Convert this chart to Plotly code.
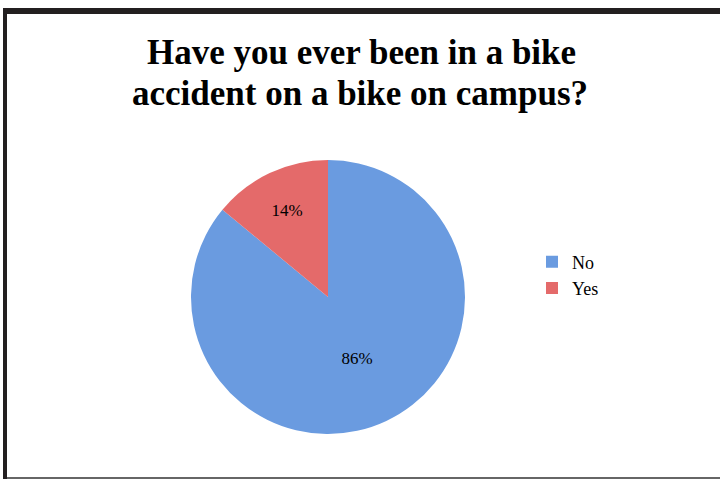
import plotly.graph_objects as go

labels = ["No", "Yes"]
values = [86, 14]
colors = ["#6A9BE0", "#E46A6A"]
title_lines = ["Have you ever been in a bike", "accident on a bike on campus?"]

W, H = 720, 479

def px(x):
    return x / W

def py(y):
    return 1 - y / H

fig = go.Figure(
    go.Pie(
        labels=labels,
        values=values,
        marker=dict(colors=colors, line=dict(width=0)),
        sort=False,
        direction="clockwise",
        rotation=0,
        texttemplate="%{percent:.0%}",
        textposition="inside",
        insidetextfont=dict(family="Liberation Serif", size=17, color="black"),
        domain=dict(x=[px(191), px(465)], y=[py(434), py(160)]),
        hoverinfo="label+percent",
    )
)

shapes = [
    dict(type="rect", xref="paper", yref="paper", x0=px(3), x1=1.01, y0=py(14), y1=py(8),
         fillcolor="#231f20", line=dict(width=0), layer="above"),
    dict(type="rect", xref="paper", yref="paper", x0=px(3), x1=px(7), y0=-0.01, y1=py(8),
         fillcolor="#231f20", line=dict(width=0), layer="above"),
    dict(type="rect", xref="paper", yref="paper", x0=px(7), x1=1.01, y0=-0.01, y1=py(477),
         fillcolor="#666666", line=dict(width=0), layer="above"),
]

annotations = [
    dict(text="<b>" + title_lines[0] + "</b>", x=px(361), y=py(52), xref="paper", yref="paper",
         showarrow=False, xanchor="center", yanchor="middle",
         font=dict(family="Liberation Serif", size=35, color="black")),
    dict(text="<b>" + title_lines[1] + "</b>", x=px(360), y=py(93), xref="paper", yref="paper",
         showarrow=False, xanchor="center", yanchor="middle",
         font=dict(family="Liberation Serif", size=35, color="black")),
]

fig.update_layout(
    width=W, height=H,
    margin=dict(l=0, r=0, t=0, b=0),
    paper_bgcolor="white",
    plot_bgcolor="white",
    shapes=shapes,
    annotations=annotations,
    showlegend=True,
    legend=dict(x=px(532), y=py(275), xanchor="left", yanchor="middle",
                font=dict(family="Liberation Serif", size=18, color="black"),
                itemwidth=30, tracegroupgap=0, bgcolor="rgba(0,0,0,0)"),
)

fig.write_html("out.html", config={"displayModeBar": False},
               post_script="document.body.style.margin='0px';")
